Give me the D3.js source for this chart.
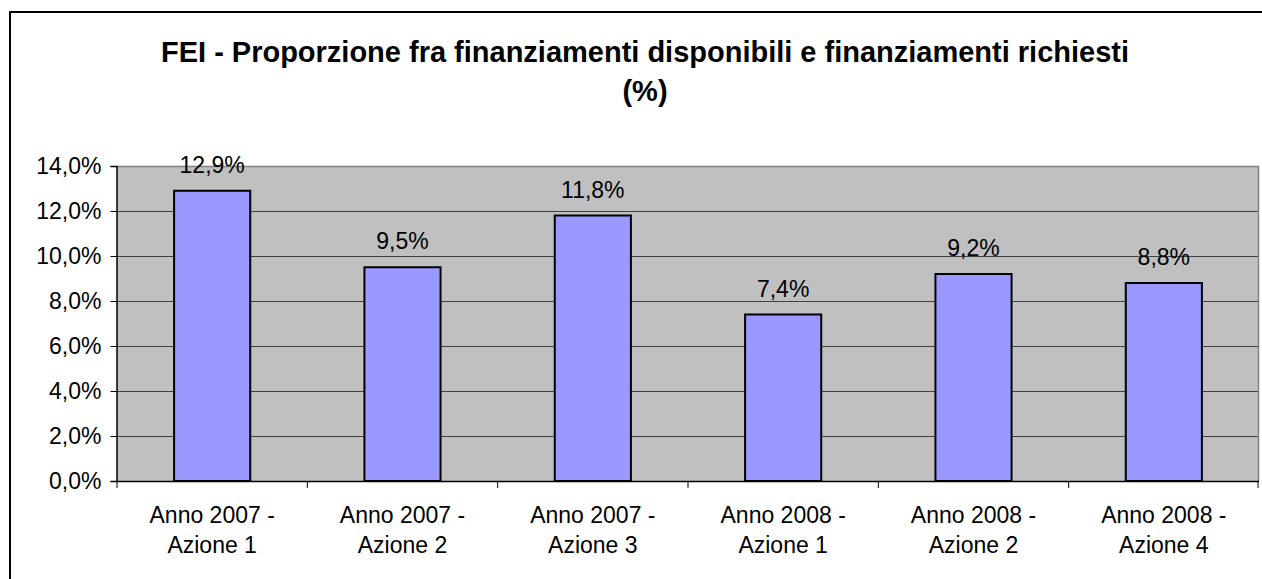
<!DOCTYPE html>
<html>
<head>
<meta charset="utf-8">
<script src="https://cdn.jsdelivr.net/npm/d3@7/dist/d3.min.js"></script>
<style>
  body { margin: 0; background: #fff; }
  text { font-family: Arial, "Liberation Sans", sans-serif; fill: #000; }
</style>
</head>
<body>
<script>
(function(){
    var categories = [
        ["Anno 2007 -", "Azione 1"],
        ["Anno 2007 -", "Azione 2"],
        ["Anno 2007 -", "Azione 3"],
        ["Anno 2008 -", "Azione 1"],
        ["Anno 2008 -", "Azione 2"],
        ["Anno 2008 -", "Azione 4"]
    ];
    var values = [12.9, 9.5, 11.8, 7.4, 9.2, 8.8];
    var yTicks = [0, 2, 4, 6, 8, 10, 12, 14];
    var titleLines = ["FEI - Proporzione fra finanziamenti disponibili e finanziamenti richiesti", "(%)"];

    var svgWidth = 1262;
    var svgHeight = 579;
    var left = 117, right = 1259, top = 166, bottom = 481;

    var fmt = function (v) { return v.toFixed(1).replace(".", ",") + "%"; };

    var svg = d3.select("body").append("svg")
        .attr("width", svgWidth).attr("height", svgHeight);

    // outer chart border (runs off the right and bottom of the picture)
    svg.append("rect").attr("x", 10).attr("y", 12)
        .attr("width", svgWidth + 20).attr("height", svgHeight + 20)
        .attr("fill", "#fff").attr("stroke", "#000").attr("stroke-width", 2);

    // title
    svg.append("text").attr("x", 645).attr("y", 62)
        .attr("text-anchor", "middle")
        .attr("font-size", 29).attr("font-weight", "bold")
        .attr("textLength", 968).attr("lengthAdjust", "spacing")
        .text(titleLines[0]);
    svg.append("text").attr("x", 645).attr("y", 101)
        .attr("text-anchor", "middle")
        .attr("font-size", 29).attr("font-weight", "bold")
        .text(titleLines[1]);

    var x = d3.scaleBand().domain(d3.range(categories.length))
        .range([left, right]).paddingInner(0.6).paddingOuter(0.3);
    var xOuter = d3.scaleBand().domain(d3.range(categories.length))
        .range([left, right]);
    var y = d3.scaleLinear().domain([0, 14]).range([bottom, top]);

    // plot area
    svg.append("rect").attr("x", left).attr("y", top)
        .attr("width", right - left).attr("height", bottom - top)
        .attr("fill", "#c0c0c0");

    // gridlines
    svg.selectAll("line.grid").data(yTicks.slice(1, -1))
        .enter().append("line").attr("class", "grid")
        .attr("x1", left).attr("x2", right)
        .attr("y1", function (d) { return y(d) + 0.5; })
        .attr("y2", function (d) { return y(d) + 0.5; })
        .attr("stroke", "#404040").attr("stroke-width", 1);

    // plot border top/right
    svg.append("path")
        .attr("d", "M" + left + "," + (top + 0.5) + "H" + (right - 0.5) + "V" + bottom)
        .attr("fill", "none").attr("stroke", "#808080").attr("stroke-width", 1.5);

    // bars
    svg.selectAll("rect.bar").data(values)
        .enter().append("rect").attr("class", "bar")
        .attr("x", function (d, i) { return x(i); })
        .attr("y", function (d) { return y(d); })
        .attr("width", x.bandwidth())
        .attr("height", function (d) { return bottom - y(d); })
        .attr("fill", "#9999ff").attr("stroke", "#000").attr("stroke-width", 2);

    // value labels
    svg.selectAll("text.val").data(values)
        .enter().append("text").attr("class", "val")
        .attr("x", function (d, i) { return x(i) + x.bandwidth() / 2; })
        .attr("y", function (d) { return y(d) - 18; })
        .attr("text-anchor", "middle").attr("font-size", 23)
        .text(fmt);

    // y axis
    var yAxis = d3.axisLeft(y).tickValues(yTicks).tickSize(6).tickPadding(9)
        .tickFormat(fmt);
    var gy = svg.append("g").attr("transform", "translate(" + (left - 0.5) + ",0)").call(yAxis);
    gy.select(".domain").attr("stroke", "#000").attr("stroke-width", 1.5);
    gy.selectAll(".tick line").attr("stroke", "#000");
    gy.selectAll(".tick text").attr("font-size", 23)
        .attr("font-family", "Arial, 'Liberation Sans', sans-serif").attr("fill", "#000");

    // x axis
    svg.append("line").attr("x1", left).attr("x2", right)
        .attr("y1", bottom + 0.5).attr("y2", bottom + 0.5)
        .attr("stroke", "#000").attr("stroke-width", 1.5);
    svg.selectAll("line.xtick").data(d3.range(categories.length + 1))
        .enter().append("line").attr("class", "xtick")
        .attr("x1", function (i) { return i < categories.length ? xOuter(i) : right - 1; })
        .attr("x2", function (i) { return i < categories.length ? xOuter(i) : right - 1; })
        .attr("y1", bottom).attr("y2", bottom + 7)
        .attr("stroke", "#000").attr("stroke-width", 1);

    var cat = svg.selectAll("text.cat").data(categories)
        .enter().append("text").attr("class", "cat")
        .attr("text-anchor", "middle").attr("font-size", 23)
        .attr("x", function (d, i) { return xOuter(i) + xOuter.bandwidth() / 2; })
        .attr("y", 523);
    cat.append("tspan")
        .attr("x", function (d, i) { return xOuter(i) + xOuter.bandwidth() / 2; })
        .text(function (d) { return d[0]; });
    cat.append("tspan")
        .attr("x", function (d, i) { return xOuter(i) + xOuter.bandwidth() / 2; })
        .attr("dy", 30)
        .text(function (d) { return d[1]; });
})();
</script>
</body>
</html>
